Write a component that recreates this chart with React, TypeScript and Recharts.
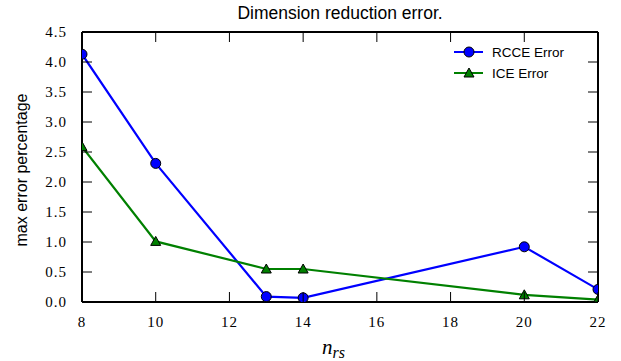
import React from "react"
import { Line, LineChart, XAxis, YAxis } from "recharts"

const nrs = [8, 10, 13, 14, 20, 22]
const rcceError = [4.13, 2.31, 0.09, 0.07, 0.92, 0.21]
const iceError = [2.59, 1.01, 0.55, 0.55, 0.12, 0.04]
const xTicks = [8, 10, 12, 14, 16, 18, 20, 22]
const yTicks = [0, 0.5, 1, 1.5, 2, 2.5, 3, 3.5, 4, 4.5]

const data = nrs.map((n, i) => ({ n, rcce: rcceError[i], ice: iceError[i] }))

const serif = "'Liberation Serif', 'DejaVu Serif', serif"
const sans = "'Liberation Sans', Arial, sans-serif"

// plot frame, used only to draw the inward tick marks
const PLOT = { left: 82, right: 598, top: 32, bottom: 302 }
const TICK = 10

function XTick(props: any) {
  const { x, payload } = props
  return (
    <g>
      <line x1={x} x2={x} y1={PLOT.bottom} y2={PLOT.bottom - TICK} stroke="#000" strokeWidth={1} />
      <text x={x} y={327} textAnchor="middle" style={{ fontFamily: serif, fontSize: 15, letterSpacing: 1, fill: "#000" }}>
        {payload.value}
      </text>
    </g>
  )
}

function TopTick(props: any) {
  const { x } = props
  return <line x1={x} x2={x} y1={PLOT.top} y2={PLOT.top + TICK} stroke="#000" strokeWidth={1} />
}

function YTick(props: any) {
  const { y, payload } = props
  return (
    <g>
      <line x1={PLOT.left} x2={PLOT.left + TICK} y1={y} y2={y} stroke="#000" strokeWidth={1} />
      <text x={67} y={y + 5} textAnchor="end" style={{ fontFamily: serif, fontSize: 15, letterSpacing: 1, fill: "#000" }}>
        {Number(payload.value).toFixed(1)}
      </text>
    </g>
  )
}

function RightTick(props: any) {
  const { y } = props
  return <line x1={PLOT.right - TICK} x2={PLOT.right} y1={y} y2={y} stroke="#000" strokeWidth={1} />
}

// matplotlib-ish triangle marker
function Triangle(props: any) {
  const { cx, cy } = props
  if (cx == null || cy == null) return null
  const s = 5
  return (
    <path
      d={`M${cx},${cy - s} L${cx + s},${cy + s * 0.8} L${cx - s},${cy + s * 0.8} Z`}
      fill="#008000"
      stroke="#000"
      strokeWidth={1}
    />
  )
}

function Overlay() {
  const rows = [
    { label: "RCCE Error", color: "#0000ff", marker: "circle" },
    { label: "ICE Error", color: "#008000", marker: "triangle" },
  ]
  return (
    <svg
      width={621}
      height={361}
      style={{ position: "absolute", left: 0, top: 0, pointerEvents: "none" }}
    >
      <text x={340} y={19} textAnchor="middle" style={{ fontFamily: sans, fontSize: 17.5 }}>
        Dimension reduction error.
      </text>
      <text
        x={27}
        y={170}
        transform="rotate(-90 27 170)"
        textAnchor="middle"
        style={{ fontFamily: sans, fontSize: 16 }}
      >
        max error percentage
      </text>
      <text x={322} y={354} style={{ fontFamily: serif, fontStyle: "italic", fontSize: 21 }}>
        n
        <tspan fontSize={16} dy={4}>rs</tspan>
      </text>
      {rows.map((r, i) => {
        const y = 52 + i * 21
        return (
          <g key={r.label}>
            <line x1={454} x2={483} y1={y} y2={y} stroke={r.color} strokeWidth={2} />
            {r.marker === "circle" ? (
              <circle cx={469} cy={y} r={5} fill={r.color} stroke="#000" strokeWidth={1} />
            ) : (
              <Triangle cx={469} cy={y} />
            )}
            <text x={492} y={y + 5} style={{ fontFamily: sans, fontSize: 13.5 }}>
              {r.label}
            </text>
          </g>
        )
      })}
    </svg>
  )
}

export default function App() {
  return (
    <div style={{ position: "absolute", left: 0, top: 0, width: 621, height: 361, background: "#fff" }}>
      <LineChart
        width={621}
        height={361}
        data={data}
        margin={{ top: 31, right: 22, bottom: 0, left: 0 }}
      >
        <XAxis
          xAxisId="b"
          dataKey="n"
          type="number"
          domain={[8, 22]}
          ticks={xTicks}
          allowDataOverflow
          height={59}
          axisLine={{ stroke: "#000", strokeWidth: 2 }}
          tickLine={false}
          tick={<XTick />}
        />
        <XAxis
          xAxisId="t"
          dataKey="n"
          type="number"
          orientation="top"
          domain={[8, 22]}
          ticks={xTicks}
          allowDataOverflow
          height={1}
          axisLine={{ stroke: "#000", strokeWidth: 2 }}
          tickLine={false}
          tick={<TopTick />}
        />
        <YAxis
          yAxisId="l"
          type="number"
          domain={[0, 4.5]}
          ticks={yTicks}
          allowDataOverflow
          width={82}
          axisLine={{ stroke: "#000", strokeWidth: 2 }}
          tickLine={false}
          tick={<YTick />}
        />
        <YAxis
          yAxisId="r"
          orientation="right"
          type="number"
          domain={[0, 4.5]}
          ticks={yTicks}
          allowDataOverflow
          width={1}
          axisLine={{ stroke: "#000", strokeWidth: 2 }}
          tickLine={false}
          tick={<RightTick />}
        />
        <Line
          xAxisId="b"
          yAxisId="l"
          type="linear"
          dataKey="rcce"
          name="RCCE Error"
          stroke="#0000ff"
          strokeWidth={2.2}
          dot={{ r: 5, fill: "#0000ff", stroke: "#000", strokeWidth: 1 }}
          activeDot={false}
          isAnimationActive={false}
        />
        <Line
          xAxisId="b"
          yAxisId="l"
          type="linear"
          dataKey="ice"
          name="ICE Error"
          stroke="#008000"
          strokeWidth={2.2}
          dot={<Triangle />}
          activeDot={false}
          isAnimationActive={false}
        />
      </LineChart>
      <Overlay />
    </div>
  )
}
